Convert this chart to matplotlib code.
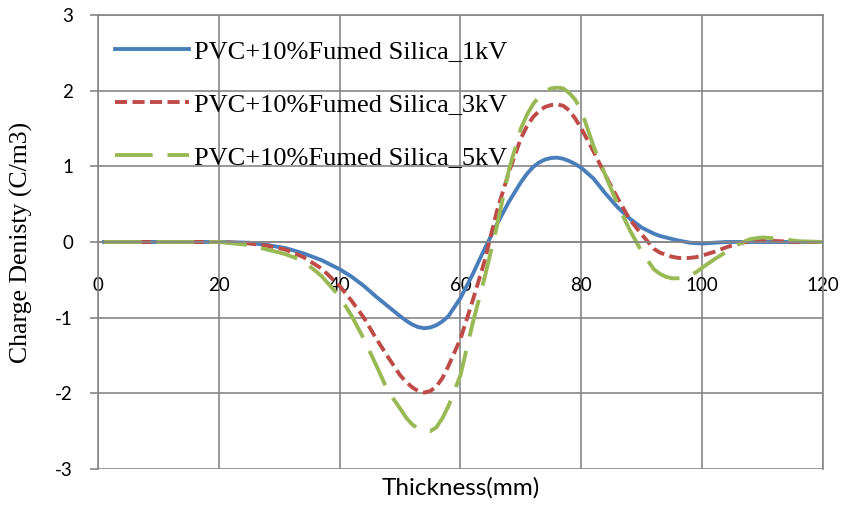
import matplotlib
matplotlib.use("Agg")
import matplotlib.pyplot as plt

plt.rcParams["axes.unicode_minus"] = False

# thickness (mm)
thickness = [1, 10, 20, 25, 28, 31, 34, 37, 40, 42, 44, 46, 48, 50, 51, 52, 53, 54,
             55, 56, 57, 58, 60, 62, 64, 66, 68, 70, 71, 72, 73, 74, 75, 76, 77, 78,
             79, 80, 82, 84, 86, 88, 90, 92, 93, 94, 95, 96, 97, 98, 99, 100, 102,
             104, 106, 108, 110, 113, 116, 120]

# charge density (C/m3)
rho_1kv = [0, 0, 0, -0.01, -0.04, -0.08, -0.15, -0.24, -0.36, -0.46, -0.58, -0.72,
           -0.85, -0.98, -1.04, -1.09, -1.125, -1.14, -1.13, -1.10, -1.05, -0.98,
           -0.74, -0.43, -0.09, 0.23, 0.53, 0.79, 0.90, 0.99, 1.05, 1.09, 1.11,
           1.115, 1.10, 1.07, 1.03, 0.98, 0.84, 0.64, 0.46, 0.31, 0.19, 0.11, 0.08,
           0.06, 0.04, 0.02, 0.005, -0.01, -0.015, -0.02, -0.01, 0, 0, 0, 0, 0, 0, 0]
rho_3kv = [0, 0, 0, -0.02, -0.05, -0.10, -0.20, -0.35, -0.58, -0.78, -1.00, -1.27,
           -1.52, -1.76, -1.85, -1.92, -1.97, -1.99, -1.97, -1.91, -1.80, -1.64,
           -1.28, -0.78, -0.25, 0.40, 0.92, 1.37, 1.53, 1.65, 1.73, 1.785, 1.81,
           1.82, 1.80, 1.74, 1.63, 1.50, 1.20, 0.88, 0.58, 0.30, 0.10, -0.09, -0.14,
           -0.17, -0.195, -0.21, -0.215, -0.21, -0.20, -0.18, -0.13, -0.07, -0.02,
           0.01, 0.02, 0.01, 0, 0]
rho_5kv = [0, 0, 0, -0.04, -0.10, -0.16, -0.25, -0.45, -0.72, -0.98, -1.28, -1.62,
           -1.97, -2.20, -2.32, -2.41, -2.47, -2.50, -2.50, -2.45, -2.33, -2.17,
           -1.76, -1.08, -0.47, 0.20, 0.95, 1.50, 1.68, 1.82, 1.92, 1.99, 2.03,
           2.04, 2.03, 1.97, 1.88, 1.74, 1.27, 0.88, 0.50, 0.16, -0.13, -0.36, -0.42,
           -0.46, -0.48, -0.48, -0.47, -0.44, -0.40, -0.34, -0.23, -0.13, -0.03,
           0.04, 0.06, 0.04, 0.01, 0]

labels = ["PVC+10%Fumed Silica_1kV", "PVC+10%Fumed Silica_3kV",
          "PVC+10%Fumed Silica_5kV"]

grey = "#868686"
serif = ["Liberation Serif", "DejaVu Serif"]
sans = ["Lato", "DejaVu Sans"]

fig = plt.figure(figsize=(8.46, 5.08), dpi=100)
ax = fig.add_axes([0.1158, 0.0768, 0.857, 0.8937])

lw = 2.8
ax.plot(thickness, rho_1kv, color="#4A7EBB", lw=lw, label=labels[0])
ax.plot(thickness, rho_3kv, color="#BE4B48", lw=lw, dashes=(3.1, 1.4), label=labels[1])
ax.plot(thickness, rho_5kv, color="#98B954", lw=lw, dashes=(9.7, 3.8), label=labels[2])

ax.set_xlim(0, 120)
ax.set_ylim(-3, 3)
ax.set_xticks(range(0, 121, 20))
ax.set_yticks(range(-3, 4))
ax.grid(True, color=grey, lw=1.2)
ax.set_axisbelow(True)

# x axis sits on the zero line
ax.spines["bottom"].set_position(("data", 0))
for s in ax.spines.values():
    s.set_color(grey)
    s.set_linewidth(1.2)

ax.tick_params(axis="x", length=0, pad=25, labelsize=13.5)
ax.tick_params(axis="y", length=6, width=1.2, color=grey, pad=12, labelsize=13.5)
for t in ax.get_xticklabels() + ax.get_yticklabels():
    t.set_family(sans)

ax.set_xlabel("Thickness(mm)", family=sans, fontsize=17.5)
ax.xaxis.set_label_coords(0.5, -0.018)
ax.set_ylabel("Charge Denisty (C/m3)", family=serif, fontsize=18.5)
ax.yaxis.set_label_coords(-0.09, 0.5)

ax.legend(loc="upper left", bbox_to_anchor=(0.023, 0.945), frameon=False,
          borderpad=0, borderaxespad=0, handlelength=2.8, handletextpad=0.2,
          labelspacing=1.12, prop={"family": serif, "size": 19})

fig.savefig("out.png", dpi=100)
